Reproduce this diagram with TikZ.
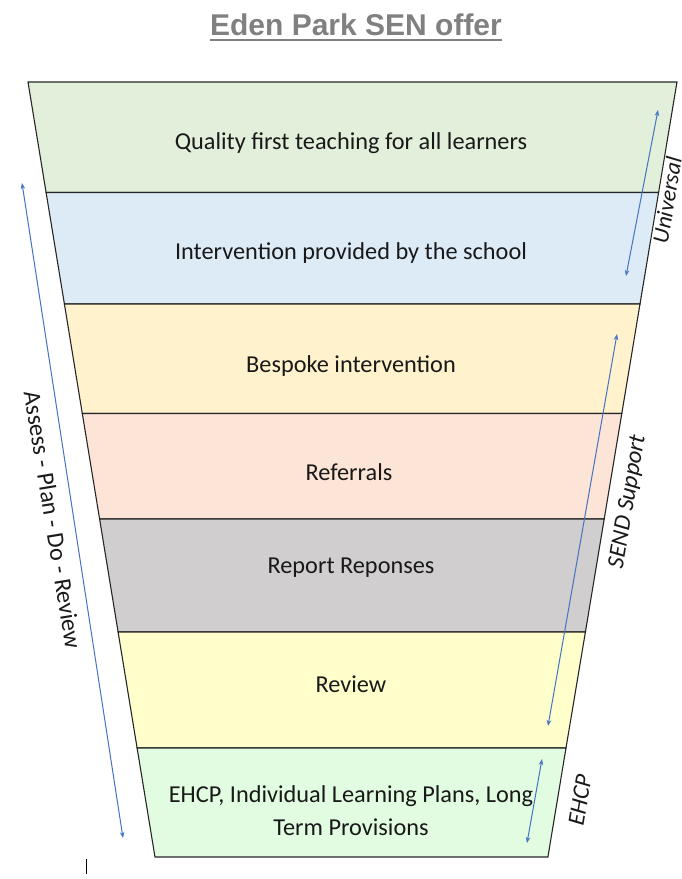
\documentclass[tikz,border=0pt]{standalone}
\usepackage{fontspec}
\setmainfont{Carlito}
\newfontfamily\titlefont{Liberation Sans}
\usetikzlibrary{arrows.meta}
\definecolor{cA}{HTML}{E2EFDA}
\definecolor{cB}{HTML}{DDEBF7}
\definecolor{cC}{HTML}{FFF2CC}
\definecolor{cD}{HTML}{FCE4D6}
\definecolor{cE}{HTML}{D0CECE}
\definecolor{cF}{HTML}{FFFFCC}
\definecolor{cG}{HTML}{E1FCE1}
\definecolor{arrowblue}{HTML}{4472C4}
\definecolor{titlegray}{HTML}{808080}
\begin{document}
\begin{tikzpicture}[x=1pt,y=-1pt,
  layer/.style={draw=black!85,line width=1.1pt},
  lbl/.style={font=\fontsize{24.3}{33}\selectfont, align=center, inner sep=0pt, text=black!90},
  side/.style={font=\fontsize{24}{28}\selectfont\itshape, inner sep=0pt, text=black!90},
  blu/.style={draw=arrowblue, line width=1pt, {Stealth[length=6pt,width=4.5pt]}-{Stealth[length=6pt,width=4.5pt]}}]
\useasboundingbox (0,0) rectangle (681,879);

% title
\node[inner sep=0pt, text=titlegray, font=\titlefont\bfseries\fontsize{30}{34}\selectfont] (title) at (356,25) {Eden Park SEN offer};
\draw[titlegray, line width=1.8pt] ([yshift=-4pt]title.base west) -- ([yshift=-4pt]title.base east);

% layers
\filldraw[layer, fill=cA] (28,82) -- (677,82) -- (658.6,192.5) -- (46.1,192.5) -- cycle;
\filldraw[layer, fill=cB] (46.1,192.5) -- (658.6,192.5) -- (640,304) -- (64.4,304) -- cycle;
\filldraw[layer, fill=cC] (64.4,304) -- (640,304) -- (621.8,413.5) -- (82.3,413.5) -- cycle;
\filldraw[layer, fill=cD] (82.3,413.5) -- (621.8,413.5) -- (604.2,519) -- (99.6,519) -- cycle;
\filldraw[layer, fill=cE] (99.6,519) -- (604.2,519) -- (585.4,632) -- (118.1,632) -- cycle;
\filldraw[layer, fill=cF] (118.1,632) -- (585.4,632) -- (566,748) -- (137.1,748) -- cycle;
\filldraw[layer, fill=cG] (137.1,748) -- (566,748) -- (547.9,857) -- (155,857) -- cycle;

\node[lbl] (l1) at (351,143) {Quality first teaching for all learners};
\node[lbl] (l2) at (351,253) {Intervention provided by the school};
\node[lbl] (l3) at (351,366) {Bespoke intervention};
\node[lbl] (l4) at (349,472) {Referrals};
\node[lbl] (l5) at (351,568) {Report Reponses};
\node[lbl] (l6) at (351,684) {Review};
\node[lbl] (l7) at (351,811) {EHCP, Individual Learning Plans, Long\\Term Provisions};

% side labels
\node[side, rotate=80.5, font=\fontsize{23}{27}\selectfont\itshape] (uni) at (667,200) {Universal};
\node[side, rotate=80.5] (send) at (628,502) {SEND Support};
\node[side, rotate=80.5] (ehcp) at (580,800) {EHCP};
\node[side, rotate=-80.7, font=\fontsize{24.3}{28}\selectfont\upshape] (apdr) at (53,520) {Assess - Plan - Do - Review};

% arrows
\coordinate (u1) at (658,110);
\coordinate (u2) at (626,276);
\coordinate (s1) at (617,334);
\coordinate (s2) at (548,726);
\coordinate (e1) at (542,759);
\coordinate (e2) at (527,843);
\coordinate (a1) at (22,183);
\coordinate (a2) at (123,838);
\draw[blu] (u1) -- (u2);
\draw[blu] (s1) -- (s2);
\draw[blu] (e1) -- (e2);
\draw[blu] (a1) -- (a2);

% stray tick
\coordinate (t1) at (86,859);
\coordinate (t2) at (86,874);
\draw[line width=1pt] (t1) -- (t2);
\end{tikzpicture}
\end{document}
